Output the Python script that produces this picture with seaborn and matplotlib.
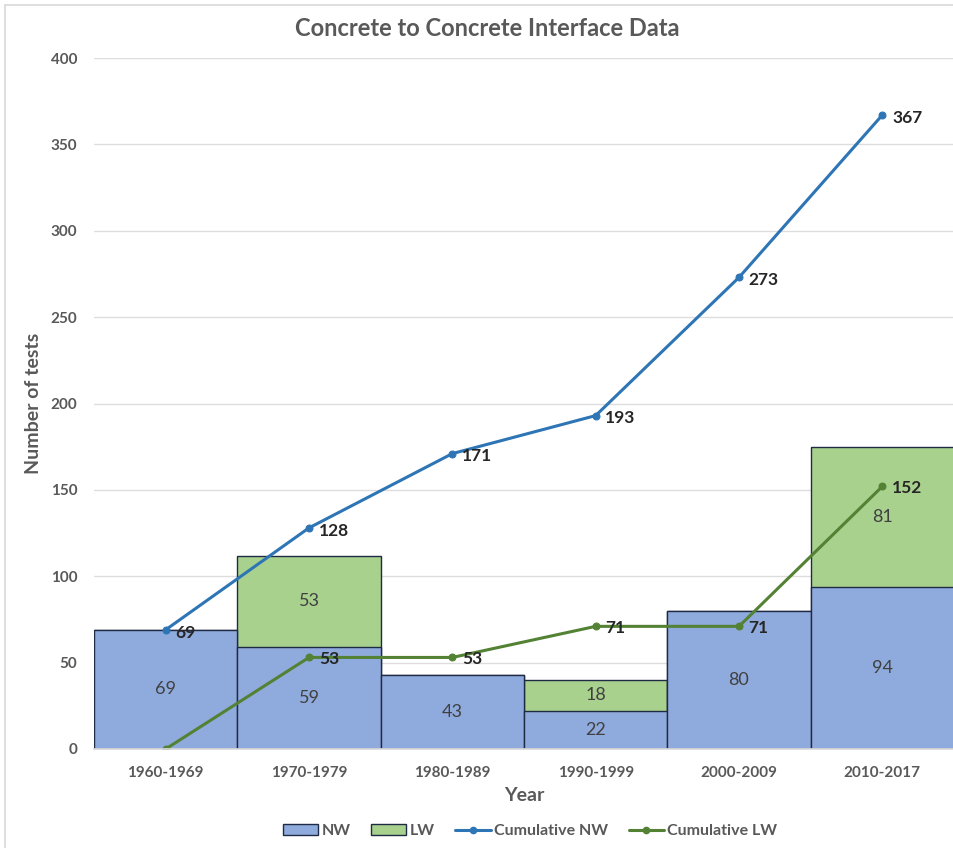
import numpy as np
import pandas as pd
import matplotlib
matplotlib.use("Agg")
import matplotlib.pyplot as plt
from matplotlib.lines import Line2D
from matplotlib.patches import Patch
import seaborn as sns

# Data
decades = ["1960-1969", "1970-1979", "1980-1989", "1990-1999", "2000-2009", "2010-2017"]
nw_tests = [69, 59, 43, 22, 80, 94]
lw_tests = [0, 53, 0, 18, 0, 81]
cumulative_nw = [69, 128, 171, 193, 273, 367]
cumulative_lw = [0, 53, 53, 71, 71, 152]
y_ticks = [0, 50, 100, 150, 200, 250, 300, 350, 400]

NW_COLOR = "#8FAADC"
LW_COLOR = "#A9D18E"
CNW_COLOR = "#2E75B6"
CLW_COLOR = "#548235"
TEXT_GRAY = "#595959"

sns.set_theme(style="white")
plt.rcParams["font.family"] = ["Lato", "DejaVu Sans"]

df = pd.DataFrame({
    "decade": decades,
    "nw": nw_tests,
    "lw": lw_tests,
    "total": np.array(nw_tests) + np.array(lw_tests),
    "cum_nw": cumulative_nw,
    "cum_lw": cumulative_lw,
    "pos": np.arange(len(decades)),
})

fig = plt.figure(figsize=(9.54, 8.48), dpi=100)
ax = fig.add_axes([94 / 954, 99 / 848, 1 - 94 / 954, (749 - 58) / 848])

# gridlines behind everything
ax.set_axisbelow(True)
ax.yaxis.grid(True, color="#DDDDDD", linewidth=1)

# stacked bars: total (LW on top) then NW over it
sns.barplot(data=df, x="decade", y="total", color=LW_COLOR, width=1.0,
            saturation=1, edgecolor="#1F2A44", linewidth=1.0, ax=ax)
sns.barplot(data=df, x="decade", y="nw", color=NW_COLOR, width=1.0,
            saturation=1, edgecolor="#1F2A44", linewidth=1.0, ax=ax)

# segment labels
for i, (n, l) in enumerate(zip(nw_tests, lw_tests)):
    ax.text(i, n / 2, str(n), ha="center", va="center", fontsize=13, color="#404040")
    if l > 0:
        ax.text(i, n + l / 2, str(l), ha="center", va="center", fontsize=13, color="#404040")

# cumulative lines
sns.lineplot(data=df, x="pos", y="cum_nw", color=CNW_COLOR, linewidth=2.2,
             marker="o", markersize=5, markeredgecolor=CNW_COLOR, ax=ax)
sns.lineplot(data=df, x="pos", y="cum_lw", color=CLW_COLOR, linewidth=2.2,
             marker="o", markersize=5, markeredgecolor=CLW_COLOR, ax=ax)

for i, v in enumerate(cumulative_nw):
    ax.annotate(str(v), (i, v), xytext=(7, -2), textcoords="offset points",
                ha="left", va="center", fontsize=12.5, fontweight="bold", color="#262626")
for i, v in enumerate(cumulative_lw):
    if i == 0:
        continue
    ax.annotate(str(v), (i, v), xytext=(7, -1), textcoords="offset points",
                ha="left", va="center", fontsize=12.5, fontweight="bold", color="#262626")

ax.set_xlim(-0.5, 5.5)
ax.set_ylim(0, 400)
ax.set_yticks(y_ticks)
ax.set_xticks(range(len(decades)))
ax.set_xticklabels(decades)
for s in ["top", "right", "left"]:
    ax.spines[s].set_visible(False)
ax.spines["bottom"].set_color("#D9D9D9")
ax.tick_params(axis="both", length=0, labelsize=11, labelcolor=TEXT_GRAY)
ax.tick_params(axis="x", pad=12)
ax.tick_params(axis="y", pad=12)
for lab in ax.get_xticklabels() + ax.get_yticklabels():
    lab.set_fontweight("bold")

ax.set_xlabel("Year", fontsize=14, fontweight="bold", color=TEXT_GRAY, labelpad=5)
ax.set_ylabel("Number of tests", fontsize=14, fontweight="bold", color=TEXT_GRAY, labelpad=6)

fig.text(487 / 954, 1 - 29 / 848, "Concrete to Concrete Interface Data", ha="center",
         va="center", fontsize=17, fontweight="bold", color=TEXT_GRAY)

handles = [
    Patch(facecolor=NW_COLOR, edgecolor="#1F2A44", linewidth=1),
    Patch(facecolor=LW_COLOR, edgecolor="#1F2A44", linewidth=1),
    Line2D([0], [0], color=CNW_COLOR, linewidth=2.2, marker="o", markersize=4.5),
    Line2D([0], [0], color=CLW_COLOR, linewidth=2.2, marker="o", markersize=4.5),
]
leg = fig.legend(handles, ["NW", "LW", "Cumulative NW", "Cumulative LW"],
                 loc="center", bbox_to_anchor=(530 / 954, 1 - 831 / 848), ncol=4,
                 frameon=False, handlelength=2.2, handletextpad=0.2,
                 columnspacing=1.3, prop={"weight": "bold", "size": 11.5})
for t in leg.get_texts():
    t.set_color(TEXT_GRAY)

# chart frame
fig.add_artist(Line2D([5 / 954, 1], [1 - 5 / 848, 1 - 5 / 848], color="#D9D9D9",
                      linewidth=1.2, transform=fig.transFigure))
fig.add_artist(Line2D([5 / 954, 5 / 954], [0, 1 - 5 / 848], color="#D9D9D9",
                      linewidth=1.2, transform=fig.transFigure))

fig.savefig("out.png", dpi=100)
